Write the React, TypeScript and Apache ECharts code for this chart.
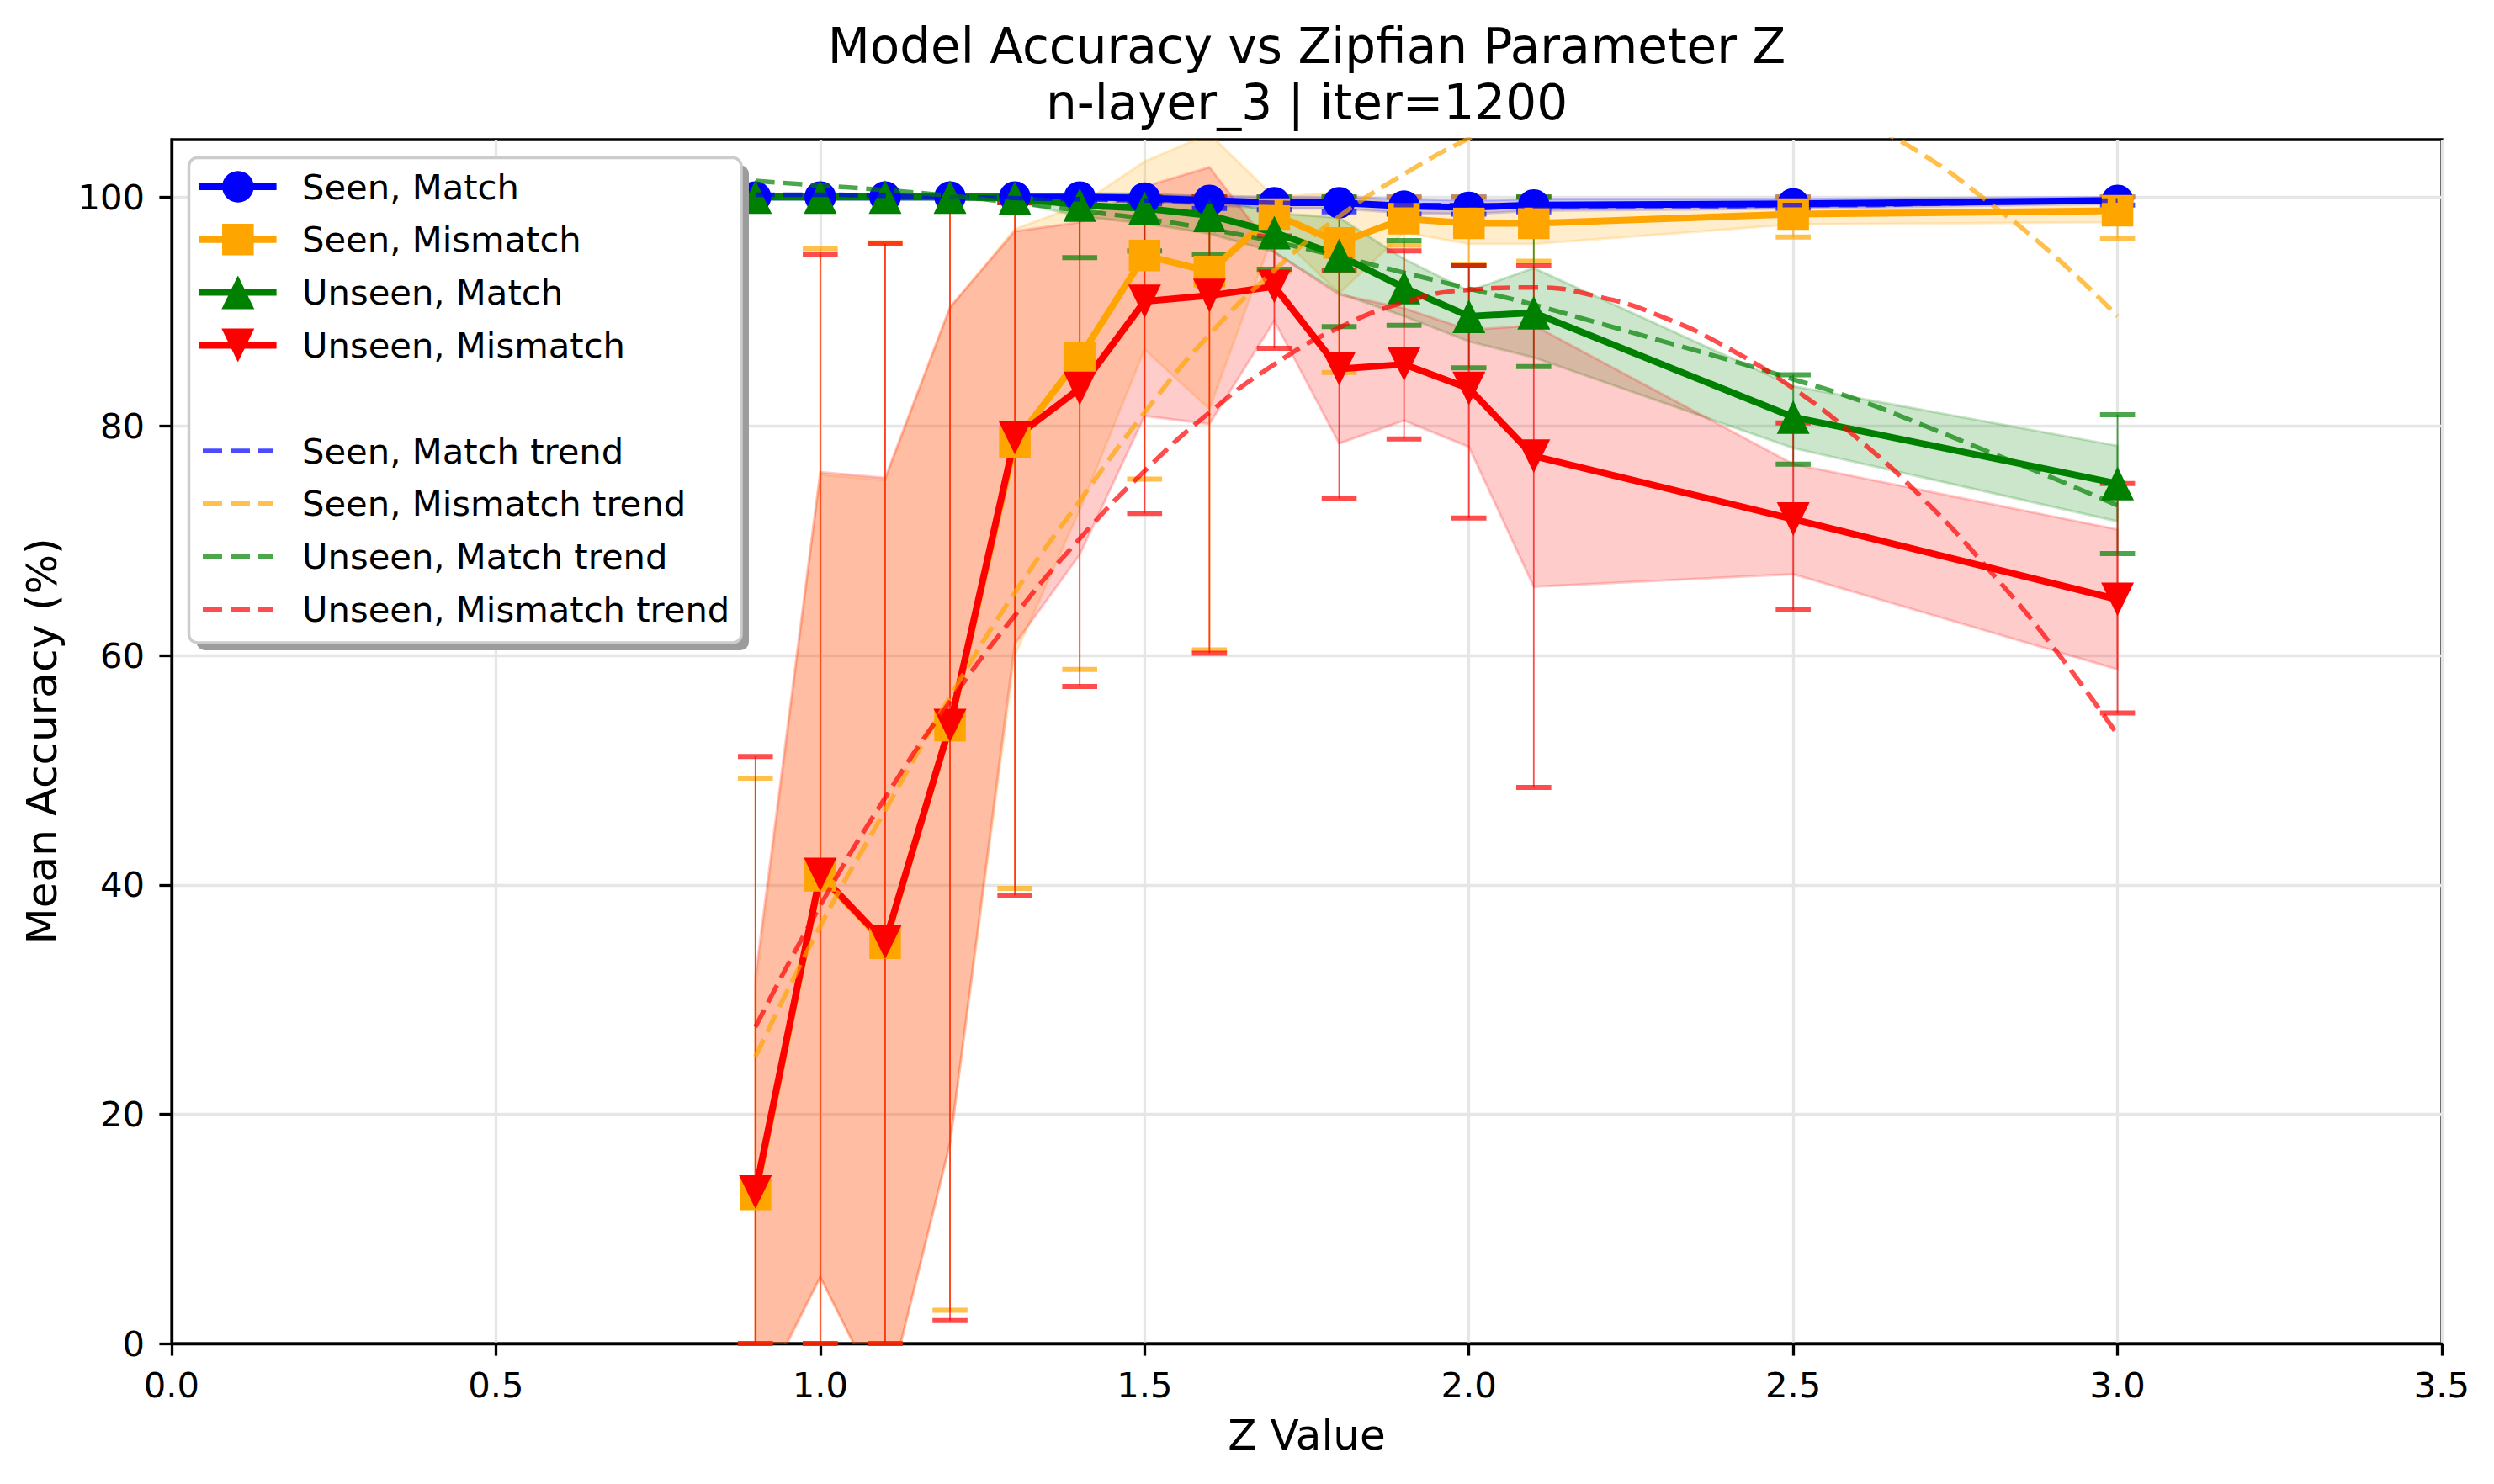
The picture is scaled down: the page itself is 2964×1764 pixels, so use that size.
import React, { useEffect, useRef } from "react";
import * as echarts from "echarts";

// ---- data -----------------------------------------------------------------
const zValues = [0.9, 1.0, 1.1, 1.2, 1.3, 1.4, 1.5, 1.6, 1.7, 1.8, 1.9, 2.0, 2.1, 2.5, 3.0];

const seenMatchMean = [100, 100, 100, 100, 100, 100.0, 99.9, 99.7, 99.5, 99.5, 99.2, 99.1, 99.3, 99.4, 99.7];
const seenMismatchMean = [13.0, 40.8, 34.9, 53.9, 78.6, 86.0, 94.9, 93.5, 98.5, 96.0, 98.1, 97.7, 97.7, 98.5, 98.8];
const unseenMatchMean = [100, 100, 100, 100, 99.9, 99.3, 99.0, 98.4, 96.9, 94.9, 92.1, 89.6, 89.9, 80.8, 75.0];
const unseenMismatchMean = [13.2, 40.9, 35.0, 53.9, 79.0, 83.3, 90.9, 91.4, 92.2, 85.0, 85.4, 83.3, 77.4, 71.9, 64.9];

// spread shown as the shaded band (mean ± std)
const seenMatchStd = [0, 0, 0, 0, 0, 0.2, 0.3, 0.4, 0.5, 0.5, 0.6, 0.6, 0.5, 0.4, 0.3];
const seenMismatchStd = [18.0, 35.0, 40.4, 36.4, 18.6, 13.3, 8.2, 12.0, 1.5, 4.4, 1.2, 1.8, 1.8, 0.9, 1.0];
const unseenMatchStd = [0, 0, 0, 0, 0.3, 1.0, 1.3, 1.6, 1.7, 3.3, 2.5, 2.2, 3.9, 2.7, 3.3];
const unseenMismatchStd = [18.8, 35.1, 40.5, 36.5, 18.0, 14.5, 10.0, 11.2, 3.0, 6.5, 4.9, 5.1, 11.4, 4.8, 6.1];

// error bar ends (clipped to 0..100)
const seenMatchLow = [100, 100, 100, 100, 100, 99.6, 99.4, 99.0, 98.9, 98.7, 98.5, 98.5, 98.7, 99.0, 99.3];
const seenMatchHigh = [100, 100, 100, 100, 100, 100, 100, 100, 100, 100, 100, 100, 100, 100, 100];
const seenMismatchLow = [0, 0, 0, 2.9, 39.7, 58.8, 75.4, 60.5, 93.5, 84.7, 95.8, 94.1, 94.4, 96.5, 96.4];
const seenMismatchHigh = [49.3, 95.5, 96.0, 100, 100, 100, 100, 100, 100, 100, 100, 100, 100, 100, 100];
const unseenMatchLow = [100, 100, 100, 100, 99.5, 94.7, 95.3, 95.0, 93.7, 88.7, 88.8, 85.1, 85.2, 76.7, 68.9];
const unseenMatchHigh = [100, 100, 100, 100, 100, 100, 100, 100, 100, 100, 96.2, 94.0, 100, 84.5, 81.0];
const unseenMismatchLow = [0, 0, 0, 2.0, 39.1, 57.3, 72.4, 60.2, 86.8, 73.7, 78.9, 72.0, 48.5, 64.0, 55.0];
const unseenMismatchHigh = [51.2, 95.0, 95.9, 100, 99.5, 100, 100, 100, 96.6, 93.6, 95.3, 94.0, 94.0, 80.3, 75.0];

// fitted trend curves, sampled along z
const trendZ = [0.9, 1.0, 1.1, 1.2, 1.3, 1.4, 1.5, 1.6, 1.7, 1.8, 1.9, 2.0, 2.1, 2.2, 2.3, 2.4, 2.5, 2.6, 2.7, 2.8, 2.9, 3.0];
const seenMatchTrend = [100.2, 100.2, 100.1, 100.0, 99.9, 99.8, 99.7, 99.6, 99.5, 99.4, 99.3, 99.3, 99.2, 99.2, 99.2, 99.2, 99.3, 99.3, 99.4, 99.5, 99.6, 99.7];
const seenMismatchTrend = [25.0, 36.4, 46.5, 56.4, 65.5, 73.5, 81.2, 88.0, 93.6, 98.3, 102.0, 105.1, 107.6, 109.3, 110.2, 110.2, 109.2, 106.7, 103.7, 99.6, 95.0, 89.6];
const unseenMatchTrend = [101.4, 101.0, 100.6, 100.1, 99.5, 98.8, 98.1, 97.2, 96.1, 94.8, 93.4, 92.0, 90.6, 89.0, 87.4, 85.8, 84.1, 82.3, 80.1, 77.8, 75.5, 73.1];
const unseenMismatchTrend = [27.6, 38.2, 47.6, 56.0, 63.5, 70.2, 76.1, 81.2, 85.4, 88.6, 90.8, 91.9, 92.1, 91.3, 89.5, 86.8, 83.3, 78.9, 73.7, 67.6, 60.8, 53.1];

const seriesNames = ["Seen, Match", "Seen, Mismatch", "Unseen, Match", "Unseen, Mismatch"];
const xTicks = [0, 0.5, 1.0, 1.5, 2.0, 2.5, 3.0, 3.5];
const yTicks = [0, 20, 40, 60, 80, 100];

// ---- styling --------------------------------------------------------------
const FONT = "DejaVu Sans";
const RGB: number[][] = [
  [0, 0, 255],
  [255, 165, 0],
  [0, 128, 0],
  [255, 0, 0],
];
const rgba = (c: number[], a: number) => `rgba(${c[0]},${c[1]},${c[2]},${a})`;
const solid = (c: number[]) => `rgb(${c[0]},${c[1]},${c[2]})`;

const GRID = { left: 204, right: 62, top: 166, bottom: 167 };
const LINE_W = 8;
const TREND_W = 5.5;
const TREND_DASH = [23, 10];
const CAP_HALF = 20.8;
const CIRCLE = 37.5;
const SQUARE = 37.5;
const TRI: [number, number] = [39, 40];

const means = [seenMatchMean, seenMismatchMean, unseenMatchMean, unseenMismatchMean];
const stds = [seenMatchStd, seenMismatchStd, unseenMatchStd, unseenMismatchStd];
const lows = [seenMatchLow, seenMismatchLow, unseenMatchLow, unseenMismatchLow];
const highs = [seenMatchHigh, seenMismatchHigh, unseenMatchHigh, unseenMismatchHigh];
const trends = [seenMatchTrend, seenMismatchTrend, unseenMatchTrend, unseenMismatchTrend];

function bandSeries(k: number) {
  const mean = means[k];
  const std = stds[k];
  return {
    type: "custom",
    name: seriesNames[k] + " band",
    coordinateSystem: "cartesian2d",
    clip: true,
    silent: true,
    z: 1,
    data: zValues.map((z, i) => [z, mean[i] - std[i], mean[i] + std[i]]),
    encode: { x: 0, y: [1, 2] },
    renderItem: (params: any, api: any) => {
      if (params.dataIndex !== 0) return null;
      const upper = zValues.map((z, i) => api.coord([z, mean[i] + std[i]]));
      const lower = zValues.map((z, i) => api.coord([z, mean[i] - std[i]])).reverse();
      return {
        type: "polygon",
        shape: { points: [...upper, ...lower] },
        style: { fill: rgba(RGB[k], 0.2), stroke: rgba(RGB[k], 0.2), lineWidth: 3 },
      };
    },
  };
}

function errorSeries(k: number) {
  const lo = lows[k];
  const hi = highs[k];
  const stroke = rgba(RGB[k], 0.7);
  return {
    type: "custom",
    name: seriesNames[k] + " error",
    coordinateSystem: "cartesian2d",
    silent: true,
    z: 2,
    data: zValues.map((z, i) => [z, lo[i], hi[i]]),
    encode: { x: 0, y: [1, 2] },
    renderItem: (_params: any, api: any) => {
      const x = api.value(0);
      const p0 = api.coord([x, api.value(1)]);
      const p1 = api.coord([x, api.value(2)]);
      return {
        type: "group",
        children: [
          { type: "line", shape: { x1: p0[0], y1: p0[1], x2: p1[0], y2: p1[1] }, style: { stroke, lineWidth: 1.8 } },
          { type: "line", shape: { x1: p0[0] - CAP_HALF, y1: p0[1], x2: p0[0] + CAP_HALF, y2: p0[1] }, style: { stroke, lineWidth: 6 } },
          { type: "line", shape: { x1: p1[0] - CAP_HALF, y1: p1[1], x2: p1[0] + CAP_HALF, y2: p1[1] }, style: { stroke, lineWidth: 6 } },
        ],
      };
    },
  };
}

const symbolOf = (k: number) => {
  if (k === 0) return { symbol: "circle", symbolSize: CIRCLE, symbolRotate: 0 };
  if (k === 1) return { symbol: "rect", symbolSize: SQUARE, symbolRotate: 0 };
  if (k === 2) return { symbol: "triangle", symbolSize: TRI, symbolRotate: 0 };
  return { symbol: "triangle", symbolSize: TRI, symbolRotate: 180 };
};

function meanSeries(k: number) {
  return {
    type: "line",
    name: seriesNames[k],
    data: zValues.map((z, i) => [z, means[k][i]]),
    ...symbolOf(k),
    showSymbol: true,
    clip: false,
    silent: true,
    z: 3,
    lineStyle: { color: solid(RGB[k]), width: LINE_W, join: "round" },
    itemStyle: { color: solid(RGB[k]), borderWidth: 0 },
  };
}

function trendSeries(k: number) {
  return {
    type: "line",
    name: seriesNames[k] + " trend",
    data: trendZ.map((z, i) => [z, trends[k][i]]),
    symbol: "none",
    smooth: true,
    clip: true,
    silent: true,
    z: 4,
    lineStyle: { color: rgba(RGB[k], 0.7), width: TREND_W, type: TREND_DASH, cap: "butt" },
  };
}

// ---- legend drawn as graphic ---------------------------------------------
function legendGraphics() {
  const L = { x: 224.5, y: 187.5, w: 656.5, h: 576.5, row0: 222, step: 62.8, hx0: 241, hx1: 324.6, tx: 359 };
  const mx = (L.hx0 + L.hx1) / 2;
  const els: any[] = [
    { type: "rect", z: 100, shape: { x: L.x + 9, y: L.y + 9, width: L.w, height: L.h, r: 10 }, style: { fill: "#9c9c9c" } },
    { type: "rect", z: 101, shape: { x: L.x, y: L.y, width: L.w, height: L.h, r: 10 }, style: { fill: "#ffffff", stroke: "#cccccc", lineWidth: 3.5 } },
  ];
  for (let k = 0; k < 4; k++) {
    const y = L.row0 + L.step * k;
    const c = solid(RGB[k]);
    els.push({ type: "line", z: 102, shape: { x1: L.hx0 - 4, y1: y, x2: L.hx1 + 4, y2: y }, style: { stroke: c, lineWidth: LINE_W } });
    if (k === 0) {
      els.push({ type: "circle", z: 103, shape: { cx: mx, cy: y, r: CIRCLE / 2 }, style: { fill: c } });
    } else if (k === 1) {
      els.push({ type: "rect", z: 103, shape: { x: mx - SQUARE / 2, y: y - SQUARE / 2, width: SQUARE, height: SQUARE }, style: { fill: c } });
    } else {
      const dir = k === 2 ? -1 : 1;
      els.push({
        type: "polygon",
        z: 103,
        shape: { points: [[mx, y + dir * TRI[1] / 2], [mx - TRI[0] / 2, y - dir * TRI[1] / 2], [mx + TRI[0] / 2, y - dir * TRI[1] / 2]] },
        style: { fill: c },
      });
    }
    els.push({
      type: "text", z: 103, x: L.tx, y,
      style: { text: seriesNames[k], fill: "#000", fontSize: 41.7, fontFamily: FONT, align: "left", verticalAlign: "middle" },
    });
  }
  for (let k = 0; k < 4; k++) {
    const y = L.row0 + L.step * (k + 5);
    els.push({
      type: "line", z: 102, shape: { x1: L.hx0, y1: y, x2: L.hx1, y2: y },
      style: { stroke: rgba(RGB[k], 0.7), lineWidth: TREND_W, lineDash: TREND_DASH, lineCap: "butt" },
    });
    els.push({
      type: "text", z: 103, x: L.tx, y,
      style: { text: seriesNames[k] + " trend", fill: "#000", fontSize: 41.7, fontFamily: FONT, align: "left", verticalAlign: "middle" },
    });
  }
  return els;
}

function buildOption() {
  const titleEls = [
    { type: "text", x: 1553, y: 55, style: { text: "Model Accuracy vs Zipfian Parameter Z", fill: "#000", fontSize: 58, fontFamily: FONT, align: "center", verticalAlign: "middle" } },
    { type: "text", x: 1553, y: 122, style: { text: "n-layer_3 | iter=1200", fill: "#000", fontSize: 58, fontFamily: FONT, align: "center", verticalAlign: "middle" } },
    { type: "text", x: 1553, y: 1705.5, style: { text: "Z Value", fill: "#000", fontSize: 50, fontFamily: FONT, align: "center", verticalAlign: "middle" } },
    { type: "text", x: 49.7, y: 881, rotation: Math.PI / 2, style: { text: "Mean Accuracy (%)", fill: "#000", fontSize: 50, fontFamily: FONT, align: "center", verticalAlign: "middle" } },
  ];

  const series: any[] = [];
  for (let k = 0; k < 4; k++) series.push(bandSeries(k));
  for (let k = 0; k < 4; k++) series.push(errorSeries(k));
  for (let k = 0; k < 4; k++) series.push(meanSeries(k));
  for (let k = 0; k < 4; k++) series.push(trendSeries(k));

  return {
    animation: false,
    backgroundColor: "#ffffff",
    textStyle: { fontFamily: FONT },
    grid: { ...GRID, show: true, borderColor: "#000", borderWidth: 3.3, backgroundColor: "transparent" },
    xAxis: {
      type: "value",
      min: 0,
      max: 3.5,
      interval: 0.5,
      axisLine: { show: true, onZero: false, lineStyle: { color: "#000", width: 3.3 } },
      axisTick: { show: true, length: 14.6, lineStyle: { color: "#000", width: 3.3 }, customValues: xTicks },
      axisLabel: { fontSize: 41.7, color: "#000", fontFamily: FONT, margin: 28, formatter: (v: number) => v.toFixed(1), customValues: xTicks },
      splitLine: { show: true, lineStyle: { color: "#e6e6e6", width: 3.3 } },
    },
    yAxis: {
      type: "value",
      min: 0,
      max: 105,
      interval: 20,
      axisLine: { show: true, onZero: false, lineStyle: { color: "#000", width: 3.3 } },
      axisTick: { show: true, length: 14.6, lineStyle: { color: "#000", width: 3.3 }, customValues: yTicks },
      axisLabel: { fontSize: 41.7, color: "#000", fontFamily: FONT, margin: 32, formatter: (v: number) => String(v), customValues: yTicks },
      splitLine: { show: true, lineStyle: { color: "#e6e6e6", width: 3.3 } },
    },
    graphic: [...titleEls, ...legendGraphics()],
    series,
  };
}

export default function App() {
  const ref = useRef<HTMLDivElement>(null);
  useEffect(() => {
    if (!ref.current) return;
    const chart = echarts.init(ref.current, null, { renderer: "svg" });
    chart.setOption(buildOption() as any);
    return () => chart.dispose();
  }, []);
  return (
    <div
      ref={ref}
      style={{ position: "fixed", left: 0, top: 0, width: 2964, height: 1764, background: "#ffffff" }}
    />
  );
}
